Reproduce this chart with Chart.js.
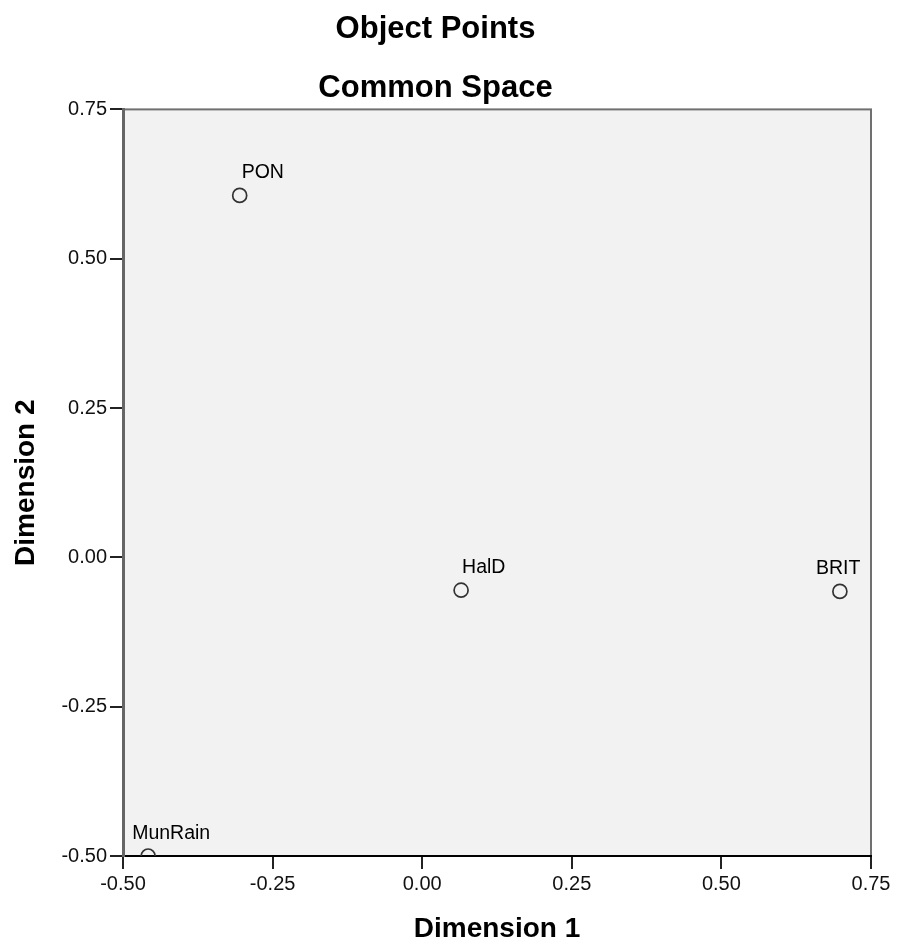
<!DOCTYPE html>
<html>
<head>
<meta charset="utf-8">
<title>Object Points</title>
<script src="https://cdn.jsdelivr.net/npm/chart.js@4/dist/chart.umd.min.js"></script>
<style>
  html, body { margin: 0; padding: 0; background: #fff; }
  canvas { display: block; }
</style>
</head>
<body>
<canvas id="objectChart" width="898" height="946"></canvas>
<script>
const objects = ['PON', 'HalD', 'BRIT', 'MunRain'];
const dim1 = [-0.305, 0.065, 0.698, -0.458];
const dim2 = [0.606, -0.055, -0.057, -0.500];
const axisTicks = [-0.5, -0.25, 0, 0.25, 0.5, 0.75];

const FONT = "'Liberation Sans', Arial, sans-serif";

// grey plot background with a thin frame round it
const plotFrame = {
  id: 'plotFrame',
  beforeDraw(chart) {
    const { ctx, chartArea: a } = chart;
    ctx.save();
    ctx.fillStyle = '#ffffff';
    ctx.fillRect(0, 0, chart.width, chart.height);
    ctx.fillStyle = '#f2f2f2';
    ctx.fillRect(a.left, a.top, a.right - a.left, a.bottom - a.top);
    ctx.strokeStyle = '#707070';
    ctx.lineWidth = 2;
    ctx.strokeRect(a.left, a.top, a.right - a.left, a.bottom - a.top);
    ctx.restore();
  }
};

// object names written above each point
const pointLabels = {
  id: 'pointLabels',
  afterDatasetsDraw(chart, args, opts) {
    const { ctx } = chart;
    const meta = chart.getDatasetMeta(0);
    ctx.save();
    ctx.font = opts.font;
    ctx.fillStyle = '#000';
    ctx.textAlign = 'left';
    ctx.textBaseline = 'alphabetic';
    meta.data.forEach((pt, i) => {
      const dx = opts.shift[i] || 0;
      ctx.fillText(objects[i], pt.x + dx, pt.y - 17);
    });
    ctx.restore();
  }
};

const fmt = v => Number(v).toFixed(2);

new Chart(document.getElementById('objectChart'), {
  type: 'scatter',
  data: {
    datasets: [{
      data: objects.map((name, i) => ({ x: dim1[i], y: dim2[i] })),
      pointRadius: 7,
      pointHoverRadius: 7,
      pointBorderWidth: 1.7,
      borderColor: '#333333',
      backgroundColor: 'rgba(0,0,0,0)',
      clip: 0
    }]
  },
  options: {
    responsive: false,
    animation: false,
    layout: { padding: { left: 0, right: 27, top: 0, bottom: 0 } },
    plugins: {
      legend: { display: false },
      tooltip: { enabled: false },
      title: {
        display: true,
        text: 'Object Points',
        color: '#000',
        font: { family: FONT, size: 31, weight: 'bold', lineHeight: 1.2 },
        padding: { top: 11, bottom: 0 }
      },
      subtitle: {
        display: true,
        text: 'Common Space',
        color: '#000',
        font: { family: FONT, size: 31, weight: 'bold', lineHeight: 1.2 },
        padding: { top: 22, bottom: 2 }
      },
      pointLabels: {
        font: "19.5px " + FONT,
        shift: [2, 1, -24, -16]
      }
    },
    scales: {
      x: {
        type: 'linear',
        min: axisTicks[0],
        max: axisTicks[axisTicks.length - 1],
        afterBuildTicks: s => { s.ticks = axisTicks.map(v => ({ value: v })); },
        afterFit: s => { s.height = 90; },
        grid: { drawOnChartArea: false, drawTicks: true, tickLength: 13, color: '#222', lineWidth: 2 },
        border: { display: true, color: '#000', width: 2 },
        ticks: {
          color: '#111',
          padding: 3,
          maxRotation: 0,
          font: { family: FONT, size: 20 },
          callback: fmt
        },
        title: {
          display: true,
          text: 'Dimension 1',
          color: '#000',
          font: { family: FONT, size: 28, weight: 'bold', lineHeight: 1.2 },
          padding: { top: 0, bottom: 0 }
        }
      },
      y: {
        type: 'linear',
        min: axisTicks[0],
        max: axisTicks[axisTicks.length - 1],
        afterBuildTicks: s => { s.ticks = axisTicks.map(v => ({ value: v })); },
        afterFit: s => { s.width = 123; },
        grid: { drawOnChartArea: false, drawTicks: true, tickLength: 13, color: '#222', lineWidth: 2 },
        border: { display: true, color: '#666', width: 3 },
        ticks: {
          color: '#111',
          padding: 3,
          font: { family: FONT, size: 20 },
          callback: fmt
        },
        title: {
          display: true,
          text: 'Dimension 2',
          color: '#000',
          font: { family: FONT, size: 28, weight: 'bold', lineHeight: 1.2 },
          padding: { top: 9, bottom: 0 }
        }
      }
    }
  },
  plugins: [plotFrame, pointLabels]
});
</script>
</body>
</html>
